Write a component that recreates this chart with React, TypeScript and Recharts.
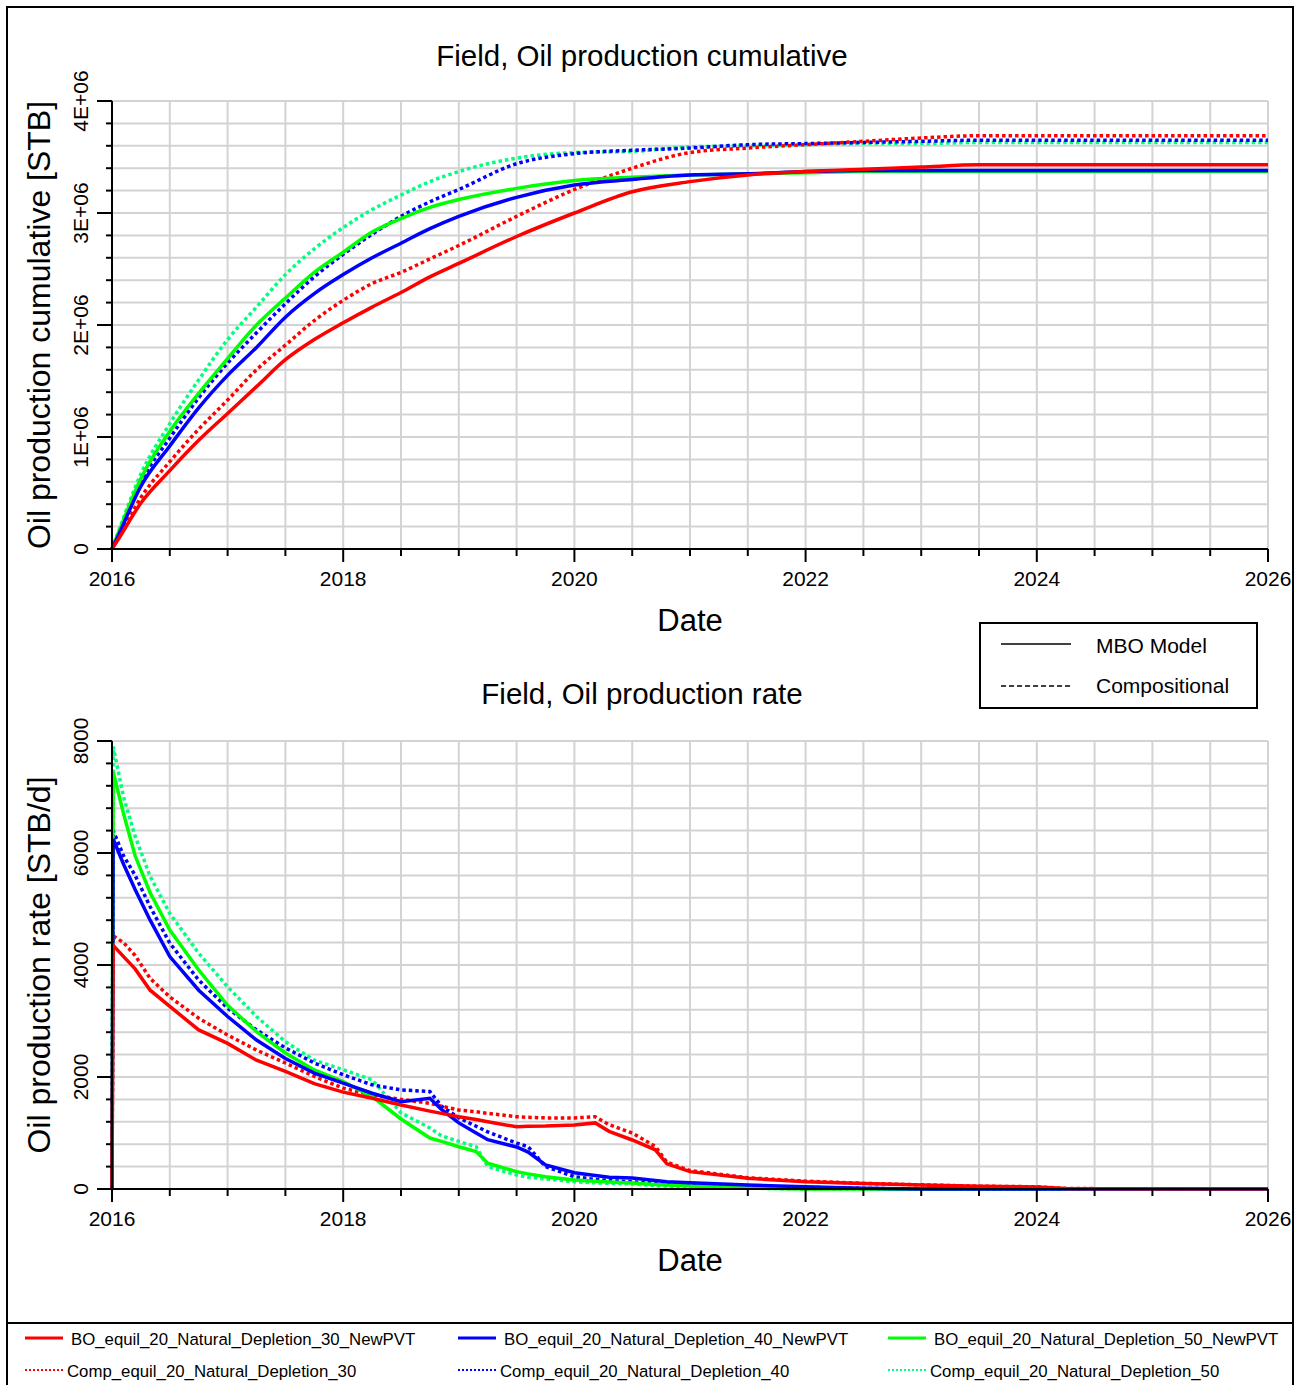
import React from "react";
import { LineChart, Line, XAxis, YAxis, CartesianGrid } from "recharts";

const FONT = '"Liberation Sans", Arial, Helvetica, sans-serif';

// x axis, decimal years
const yearLabels = [2016, 2018, 2020, 2022, 2024, 2026];
const halfYears = [
  2016, 2016.5, 2017, 2017.5, 2018, 2018.5, 2019, 2019.5, 2020, 2020.5, 2021,
  2021.5, 2022, 2022.5, 2023, 2023.5, 2024, 2024.5, 2025, 2025.5, 2026,
];

// cumulative panel, millions of STB
const cumMajor = [0, 1, 2, 3, 4];
const cumLabels = ["0", "1E+06", "2E+06", "3E+06", "4E+06"];
const cumMinor = [
  0, 0.2, 0.4, 0.6, 0.8, 1, 1.2, 1.4, 1.6, 1.8, 2, 2.2, 2.4, 2.6, 2.8, 3, 3.2,
  3.4, 3.6, 3.8, 4,
];

// rate panel, STB/d
const rateMajor = [0, 2000, 4000, 6000, 8000];
const rateLabels = ["0", "2000", "4000", "6000", "8000"];
const rateMinor = [
  0, 400, 800, 1200, 1600, 2000, 2400, 2800, 3200, 3600, 4000, 4400, 4800,
  5200, 5600, 6000, 6400, 6800, 7200, 7600, 8000,
];

const seriesKeys = ["bo30", "bo40", "bo50", "comp30", "comp40", "comp50"];
const seriesNames = [
  "BO_equil_20_Natural_Depletion_30_NewPVT",
  "BO_equil_20_Natural_Depletion_40_NewPVT",
  "BO_equil_20_Natural_Depletion_50_NewPVT",
  "Comp_equil_20_Natural_Depletion_30",
  "Comp_equil_20_Natural_Depletion_40",
  "Comp_equil_20_Natural_Depletion_50",
];
const seriesColors = ["#ff0000", "#0000ff", "#00ff00", "#ff0000", "#0000ff", "#00ff80"];
const seriesDotted = [false, false, false, true, true, true];

const cumYears = [
  2016, 2016.05, 2016.25, 2016.5, 2016.75, 2017, 2017.25, 2017.5, 2017.75, 2018,
  2018.25, 2018.5, 2018.75, 2019, 2019.5, 2020, 2020.5, 2021, 2021.5, 2022,
  2022.5, 2023, 2023.5, 2024, 2025, 2026,
];
const cumBO30 = [0, 0.08, 0.41, 0.7, 0.97, 1.21, 1.45, 1.69, 1.87, 2.02, 2.16, 2.29, 2.43, 2.55, 2.79, 3.0, 3.19, 3.28, 3.34, 3.37, 3.39, 3.41, 3.43, 3.43, 3.43, 3.43];
const cumBO40 = [0, 0.11, 0.56, 0.92, 1.26, 1.55, 1.8, 2.07, 2.28, 2.45, 2.6, 2.73, 2.86, 2.97, 3.14, 3.25, 3.3, 3.34, 3.35, 3.37, 3.38, 3.38, 3.38, 3.38, 3.38, 3.38];
const cumBO50 = [0, 0.13, 0.63, 1.05, 1.39, 1.7, 2.0, 2.24, 2.47, 2.65, 2.83, 2.95, 3.05, 3.12, 3.22, 3.29, 3.32, 3.34, 3.35, 3.36, 3.37, 3.37, 3.37, 3.37, 3.37, 3.37];
const cumComp30 = [0, 0.09, 0.46, 0.78, 1.07, 1.33, 1.6, 1.82, 2.04, 2.22, 2.37, 2.47, 2.59, 2.71, 2.97, 3.21, 3.4, 3.54, 3.58, 3.61, 3.64, 3.67, 3.69, 3.69, 3.69, 3.69];
const cumComp40 = [0, 0.12, 0.6, 0.99, 1.35, 1.66, 1.93, 2.19, 2.43, 2.63, 2.81, 2.97, 3.1, 3.21, 3.44, 3.53, 3.56, 3.58, 3.61, 3.62, 3.63, 3.64, 3.65, 3.65, 3.65, 3.65];
const cumComp50 = [0, 0.14, 0.67, 1.12, 1.51, 1.87, 2.16, 2.45, 2.68, 2.87, 3.03, 3.16, 3.28, 3.37, 3.49, 3.54, 3.55, 3.59, 3.6, 3.61, 3.62, 3.62, 3.63, 3.63, 3.63, 3.63];

const rateYears = [
  2016, 2016.01, 2016.1, 2016.2, 2016.33, 2016.5, 2016.75, 2017, 2017.25, 2017.5,
  2017.75, 2018, 2018.25, 2018.5, 2018.75, 2018.85, 2019, 2019.15, 2019.25, 2019.5,
  2019.6, 2019.75, 2020, 2020.18, 2020.3, 2020.5, 2020.7, 2020.8, 2021, 2021.5,
  2022, 2022.5, 2023, 2023.5, 2024, 2024.25, 2025, 2026,
];
const rateBO30 = [0, 4350, 4150, 3930, 3550, 3260, 2840, 2600, 2300, 2100, 1880, 1730, 1620, 1500, 1390, 1350, 1290, 1240, 1200, 1110, 1120, 1125, 1145, 1180, 1030, 875, 700, 450, 310, 190, 130, 100, 70, 50, 35, 10, 5, 5];
const rateBO40 = [0, 6250, 5800, 5350, 4800, 4150, 3550, 3080, 2660, 2330, 2070, 1890, 1710, 1560, 1620, 1420, 1180, 1000, 880, 750, 660, 430, 290, 240, 210, 195, 150, 130, 110, 70, 40, 15, 0, 0, 0, 0, 0, 0];
const rateBO50 = [0, 7450, 6700, 5950, 5290, 4625, 3910, 3280, 2810, 2430, 2125, 1920, 1650, 1250, 910, 850, 755, 670, 460, 310, 270, 220, 160, 140, 125, 105, 80, 70, 55, 20, 0, 0, 0, 0, 0, 0, 0, 0];
const rateComp30 = [0, 4520, 4400, 4170, 3760, 3430, 3050, 2750, 2480, 2250, 2010, 1800, 1680, 1600, 1530, 1480, 1410, 1380, 1350, 1290, 1280, 1270, 1270, 1290, 1150, 1000, 760, 480, 330, 200, 140, 100, 75, 50, 40, 10, 0, 0];
const rateComp40 = [0, 6400, 5950, 5600, 5040, 4390, 3730, 3230, 2840, 2520, 2250, 2040, 1860, 1770, 1740, 1480, 1270, 1120, 1020, 820, 755, 400, 220, 170, 150, 130, 100, 90, 70, 45, 30, 10, 0, 0, 0, 0, 0, 0];
const rateComp50 = [0, 7900, 7000, 6300, 5580, 4920, 4210, 3610, 3080, 2630, 2300, 2130, 1950, 1360, 1090, 950, 850, 755, 400, 250, 210, 180, 130, 110, 100, 90, 60, 50, 40, 15, 0, 0, 0, 0, 0, 0, 0, 0];

const cumData = cumYears.map((x, i) => ({
  x,
  bo30: cumBO30[i],
  bo40: cumBO40[i],
  bo50: cumBO50[i],
  comp30: cumComp30[i],
  comp40: cumComp40[i],
  comp50: cumComp50[i],
}));

const rateData = rateYears.map((x, i) => ({
  x,
  bo30: rateBO30[i],
  bo40: rateBO40[i],
  bo50: rateBO50[i],
  comp30: rateComp30[i],
  comp40: rateComp40[i],
  comp50: rateComp50[i],
}));

// dotted first, then solid; green, blue, red on top
const drawOrder = [5, 4, 3, 2, 1, 0];

const X_TICK = 13;
const X_MARGIN = 9;
const Y_TICK = 15;
const Y_MARGIN = 9;

const XTick = (props: any) => {
  const { x, y, payload } = props;
  const axisY = y - X_TICK - X_MARGIN;
  const major = yearLabels.includes(payload.value);
  return (
    <g>
      <line x1={x} x2={x} y1={axisY} y2={axisY + (major ? X_TICK : 7)} stroke="#000" strokeWidth={2} />
      {major && (
        <text x={x} y={y} dy="0.71em" textAnchor="middle" fontSize={21} fill="#000" fontFamily={FONT}>
          {payload.value}
        </text>
      )}
    </g>
  );
};

const YTick = (props: any) => {
  const { x, y, payload, majors, labels } = props;
  const axisX = x + Y_TICK + Y_MARGIN;
  const idx = majors.indexOf(payload.value);
  return (
    <g>
      <line x1={axisX - (idx >= 0 ? Y_TICK : 6)} x2={axisX} y1={y} y2={y} stroke="#000" strokeWidth={2} />
      {idx >= 0 && (
        <text x={x} y={y} transform={`rotate(-90 ${x} ${y})`} textAnchor="middle" fontSize={21} fill="#000" fontFamily={FONT}>
          {labels[idx]}
        </text>
      )}
    </g>
  );
};

type PanelProps = {
  top: number;
  titleTop: number;
  title: string;
  yLabel: string;
  data: any[];
  domain: [number, number];
  majors: number[];
  minors: number[];
  labels: string[];
  curve: "monotone" | "linear";
};

const Panel = ({ top, titleTop, title, yLabel, data, domain, majors, minors, labels, curve }: PanelProps) => (
  <div style={{ position: "absolute", left: 0, top, width: 1303, height: 640 }}>
    <LineChart width={1303} height={640} data={data} margin={{ top: 101, right: 35, bottom: 0, left: 0 }}>
      <CartesianGrid stroke="#d3d3d3" strokeWidth={2} />
      <XAxis
        type="number"
        dataKey="x"
        domain={[2016, 2026]}
        ticks={halfYears}
        interval={0}
        height={91}
        tickSize={X_TICK}
        tickMargin={X_MARGIN}
        tickLine={false}
        axisLine={{ stroke: "#000", strokeWidth: 2 }}
        tick={<XTick />}
        label={{ value: "Date", position: "insideBottom", offset: 9, fontSize: 31, fill: "#000" }}
      />
      <YAxis
        type="number"
        domain={domain}
        ticks={minors}
        interval={0}
        width={112}
        tickSize={Y_TICK}
        tickMargin={Y_MARGIN}
        tickLine={false}
        axisLine={{ stroke: "#000", strokeWidth: 2 }}
        tick={<YTick majors={majors} labels={labels} />}
      />
      {drawOrder.map((i) => (
        <Line
          key={seriesKeys[i]}
          type={curve}
          dataKey={seriesKeys[i]}
          name={seriesNames[i]}
          stroke={seriesColors[i]}
          strokeWidth={3.5}
          strokeDasharray={seriesDotted[i] ? "3.5 3" : undefined}
          dot={false}
          activeDot={false}
          isAnimationActive={false}
        />
      ))}
    </LineChart>
    <div
      style={{
        position: "absolute",
        left: 0,
        top: titleTop,
        width: 1284,
        textAlign: "center",
        fontSize: 29.5,
        lineHeight: "29.5px",
        whiteSpace: "nowrap",
      }}
    >
      {title}
    </div>
    <div
      style={{
        position: "absolute",
        left: 38.5 - 300,
        top: 325 - 16,
        width: 600,
        height: 32,
        lineHeight: "32px",
        fontSize: 32,
        textAlign: "center",
        whiteSpace: "nowrap",
        transform: "rotate(-90deg)",
      }}
    >
      {yLabel}
    </div>
  </div>
);

const ModelBox = () => (
  <svg style={{ position: "absolute", left: 0, top: 0 }} width={1303} height={1385} pointerEvents="none">
    <rect x={980} y={623} width={277} height={85} fill="#fff" stroke="#000" strokeWidth={2} />
    <line x1={1001} x2={1071} y1={644} y2={644} stroke="#000" strokeWidth={1.5} />
    <line x1={1001} x2={1071} y1={686} y2={686} stroke="#000" strokeWidth={1.5} strokeDasharray="5 3" />
    <text x={1096} y={652.5} fontSize={21} fontFamily={FONT} fill="#000">MBO Model</text>
    <text x={1096} y={692.5} fontSize={21} fontFamily={FONT} fill="#000">Compositional</text>
  </svg>
);

const legendCols = [25, 458, 888];
const legendRows = [1338, 1370];

const SeriesLegend = () => (
  <svg style={{ position: "absolute", left: 0, top: 0 }} width={1303} height={1385} pointerEvents="none">
    {seriesNames.map((name, i) => {
      const col = i % 3;
      const row = Math.floor(i / 3);
      const x0 = legendCols[col];
      const y0 = legendRows[row];
      return (
        <g key={name}>
          <line
            x1={x0}
            x2={x0 + 38}
            y1={y0}
            y2={y0}
            stroke={seriesColors[i]}
            strokeWidth={seriesDotted[i] ? 2 : 3}
            strokeDasharray={seriesDotted[i] ? "2 2" : undefined}
          />
          <text x={x0 + (seriesDotted[i] ? 42 : 46)} y={y0 + 7} fontSize={16.8} fontFamily={FONT} fill="#000">
            {name}
          </text>
        </g>
      );
    })}
  </svg>
);

export default function App() {
  return (
    <div
      style={{
        position: "absolute",
        left: 0,
        top: 0,
        width: 1303,
        height: 1385,
        overflow: "hidden",
        background: "#fff",
        fontFamily: FONT,
        color: "#000",
      }}
    >
      <div
        style={{
          position: "absolute",
          left: 6,
          top: 6,
          width: 1288,
          height: 1420,
          border: "2px solid #000",
          boxSizing: "border-box",
        }}
      />
      <div style={{ position: "absolute", left: 6, top: 1322, width: 1288, height: 2, background: "#000" }} />
      <Panel
        top={0}
        titleTop={41}
        title="Field, Oil production cumulative"
        yLabel="Oil production cumulative [STB]"
        data={cumData}
        domain={[0, 4]}
        majors={cumMajor}
        minors={cumMinor}
        labels={cumLabels}
        curve="monotone"
      />
      <Panel
        top={640}
        titleTop={39}
        title="Field, Oil production rate"
        yLabel="Oil production rate [STB/d]"
        data={rateData}
        domain={[0, 8000]}
        majors={rateMajor}
        minors={rateMinor}
        labels={rateLabels}
        curve="linear"
      />
      <ModelBox />
      <SeriesLegend />
    </div>
  );
}
